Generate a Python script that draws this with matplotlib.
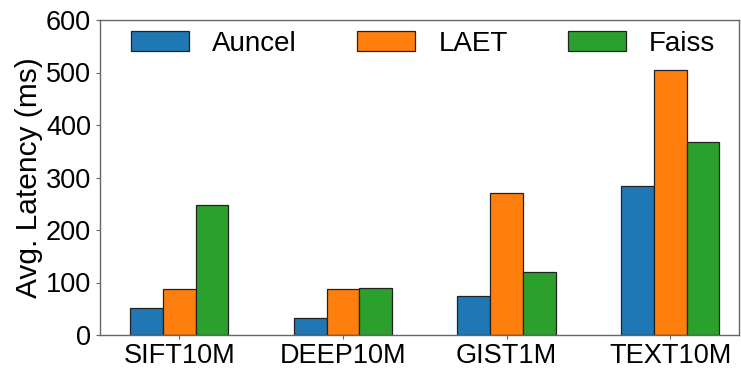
import matplotlib
matplotlib.use("Agg")
import matplotlib.pyplot as plt
import numpy as np

plt.rcParams['font.family'] = ['Liberation Sans', 'DejaVu Sans']

categories = ["SIFT10M", "DEEP10M", "GIST1M", "TEXT10M"]
auncel = [51, 33, 74, 283]
laet = [88, 88, 271, 504]
faiss = [248, 90, 120, 368]
series = [("Auncel", auncel, "#1f77b4"), ("LAET", laet, "#ff7f0e"), ("Faiss", faiss, "#2ca02c")]

fig = plt.figure(figsize=(7.41, 3.68), dpi=100)
ax = fig.add_axes([99.5/741, (368-335)/368, (739-99.5)/741, (335-20)/368])

x = np.arange(len(categories))
w = 0.2
for i, (name, vals, col) in enumerate(series):
    ax.bar(x + (i - 1) * w, vals, w, color=col, edgecolor="#222222", linewidth=0.9, label=name)

ax.set_xlim(-0.487, 3.42)
ax.set_ylim(0, 600)
ax.set_yticks([0, 100, 200, 300, 400, 500, 600])
ax.set_xticks(x)
ax.set_xticklabels(categories)
ax.tick_params(axis='both', labelsize=19.5, length=3, colors="#666666", labelcolor="#000000", pad=3)
ax.set_ylabel("Avg. Latency (ms)", fontsize=21.5, labelpad=2)
for s in ax.spines.values():
    s.set_color("#666666")
    s.set_linewidth(1.0)

ax.legend(loc="center", ncol=3, frameon=False, fontsize=20,
          handlelength=2.1, handleheight=0.72, handletextpad=0.83, columnspacing=2.16,
          bbox_to_anchor=(0.506, 0.925))

fig.savefig("out.png", dpi=100)
